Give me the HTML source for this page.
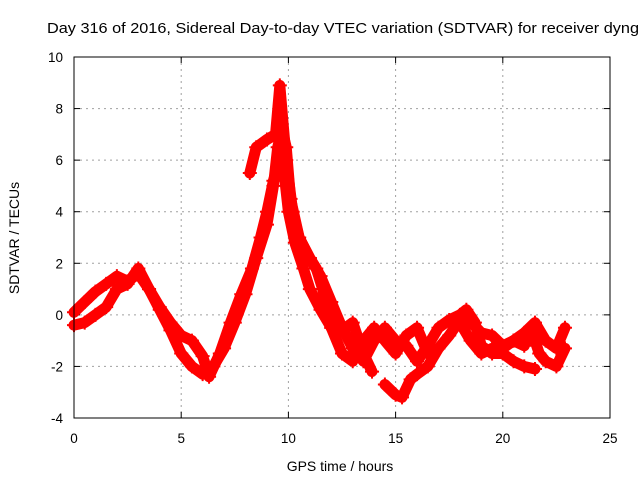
<!DOCTYPE html>
<html><head><meta charset="utf-8"><style>
body{margin:0;background:#fff}
svg{display:block;font-family:"Liberation Sans",sans-serif}
</style></head><body>
<svg id="chart" width="640" height="480">
<text x="47" y="33" font-size="14.5" textLength="592" lengthAdjust="spacingAndGlyphs">Day 316 of 2016, Sidereal Day-to-day VTEC variation (SDTVAR) for receiver dyng</text>
<text x="340" y="471" font-size="14" text-anchor="middle">GPS time / hours</text>
<text transform="translate(19,238) rotate(-90)" font-size="14" text-anchor="middle">SDTVAR / TECUs</text>
<g id="grid"></g><g id="ticks"></g><g id="series"></g>
<rect x="74" y="57" width="536" height="361" fill="none" stroke="#000" stroke-width="1"/>
</svg>
<script>
const xTicks=[0,5,10,15,20,25];
const yTicks=[-4,-2,0,2,4,6,8,10];
const t1=[0,0.5,1,1.5,2,2.5,3,3.5,4,4.5,5,5.5,6,6.3,6.8,7.3,7.8,8.3,8.7,9,9.3,9.6,9.8,10,10.3,10.7,11,11.5,12,12.5,13,13.5,13.9];
const v1=[0.1,0.5,0.9,1.2,1.5,1.3,1.6,1.0,0.3,-0.3,-0.8,-1.0,-1.6,-2.4,-1.5,-0.3,0.8,1.8,3.0,4.0,5.2,6.0,5.5,4.0,2.8,1.8,1.0,0.2,-0.5,-0.6,-0.3,-1.5,-2.2];
const t2=[0,0.5,1,1.5,2,2.5,3,3.5,4,4.5,5,5.5,6,6.5,7,7.5,8,8.5,9,9.3,9.5,9.7,9.9,10.1,10.5,11,11.3,11.6,12,12.5,13,13.5,14,14.5,15,15.5,16,16.5];
const v2=[-0.4,-0.3,0,0.3,1.0,1.2,1.8,1.0,0.2,-0.6,-1.5,-2.0,-2.3,-2.0,-1.3,-0.3,0.8,2.2,3.5,5.0,6.5,7.2,6.5,4.5,3.0,2.2,1.8,1.0,-0.5,-1.5,-1.8,-1.0,-0.5,-1.0,-1.5,-0.8,-0.5,-1.5];
const t3=[8.2,8.5,9,9.4,9.6,9.9,10.2,10.5,11,11.5,12,12.5,13,13.5,14,14.5,15,15.5,16,16.5,17,17.5,18,18.3,18.7,19,19.5,20,20.5,21,21.5];
const v3=[5.5,6.5,6.8,7.0,8.9,6.0,4.0,3.0,2.2,1.5,0.5,-0.5,-1.3,-1.8,-1.0,-0.5,-1.0,-1.2,-1.8,-1.2,-0.5,-0.2,0,0.2,-0.3,-1.2,-1.5,-1.5,-1.8,-2.0,-2.1];
const t4=[14.5,15,15.3,15.7,16,16.5,17,17.5,18,18.4,19,19.5,20,20.5,21,21.5,22,22.5,22.9];
const v4=[-2.7,-3.1,-3.2,-2.5,-2.3,-2.0,-1.3,-0.8,-0.2,-0.2,-0.7,-0.8,-1.2,-1.0,-0.7,-0.3,-1.0,-1.3,-0.5];
const t5=[18,18.5,19,19.5,20,20.5,21,21.3,21.7,22,22.5,22.9];
const v5=[-0.3,-1.0,-1.5,-1.3,-1.3,-1.0,-1.2,-0.5,-1.5,-1.8,-2.0,-1.3];
const NS="http://www.w3.org/2000/svg";
const X=h=>74+h*536/25, Y=v=>418-(v+4)*361/14;
const grid=document.getElementById('grid'),ticks=document.getElementById('ticks'),ser=document.getElementById('series');
function mk(tag,a,p){const e=document.createElementNS(NS,tag);for(const k in a)e.setAttribute(k,a[k]);p.appendChild(e);return e;}
xTicks.forEach(t=>{const x=X(t);
 if(t>0&&t<25){const g=mk('line',{x1:x,x2:x,y1:57,y2:418,stroke:'#a0a0a0','stroke-dasharray':'2,4'},grid);
 
 }
 mk('line',{x1:x,x2:x,y1:418,y2:412,stroke:'#000'},ticks);mk('line',{x1:x,x2:x,y1:57,y2:63,stroke:'#000'},ticks);
 const l=mk('text',{x:x,y:443,'font-size':13.5,'text-anchor':'middle'},ticks);l.textContent=t;
 
 });
yTicks.forEach(t=>{const y=Y(t);
 if(t>-4&&t<10){const g=mk('line',{x1:74,x2:610,y1:y,y2:y,stroke:'#a0a0a0','stroke-dasharray':'2,4'},grid);
 
 }
 mk('line',{x1:74,x2:80,y1:y,y2:y,stroke:'#000'},ticks);mk('line',{x1:610,x2:604,y1:y,y2:y,stroke:'#000'},ticks);
 const l=mk('text',{x:63,y:y+5,'font-size':13.5,'text-anchor':'end'},ticks);l.textContent=t;
 
 });
[[t1,v1],[t2,v2],[t3,v3],[t4,v4],[t5,v5]].forEach(([ts,vs],i)=>{
 const pts=ts.map((t,j)=>X(t)+','+Y(vs[j])).join(' ');
 const pl=mk('polyline',{points:pts,fill:'none',stroke:'#ff0000','stroke-width':11,'stroke-linejoin':'round','stroke-linecap':'round'},ser);
 
 
 ts.forEach((t,j)=>{const x=X(t),y=Y(vs[j]);
  const p=mk('path',{d:`M${x-7},${y}H${x+7}M${x},${y-7}V${y+7}`,stroke:'#ff0000','stroke-width':2},ser);
  
  });
});
</script>
</body></html>
